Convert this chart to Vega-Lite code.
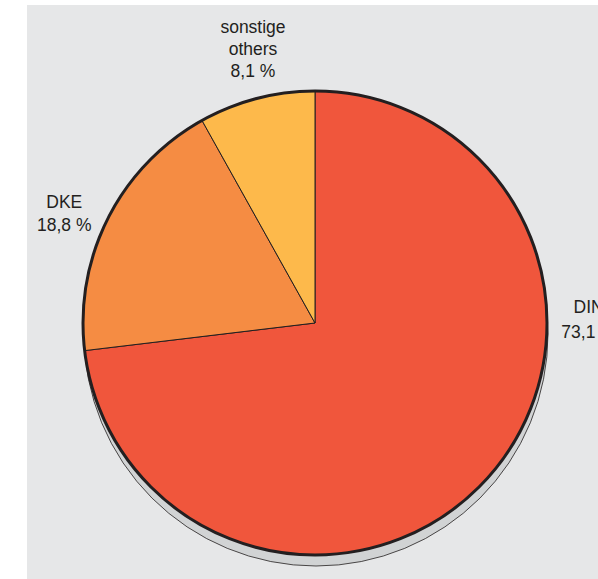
{
  "$schema": "https://vega.github.io/schema/vega-lite/v6.json",
  "width": 571,
  "height": 574,
  "autosize": {"type": "none"},
  "padding": {"left": 27, "top": 5, "right": 0, "bottom": 0},
  "background": "#ffffff",
  "view": {"fill": "#e6e7e8", "stroke": null},
  "config": {"view": {"fill": "#e6e7e8", "stroke": null}},
  "datasets": {
    "shares": [
      {"name": "DIN", "share": 73.1, "label": ["DIN", "73,1 %"]},
      {"name": "DKE", "share": 18.8, "label": ["DKE", "18,8 %"]},
      {"name": "sonstige", "share": 8.1, "label": ["sonstige", "others", "8,1 %"]}
    ],
    "whole": [{"share": 100}]
  },
  "layer": [
    {
      "data": {"name": "whole"},
      "mark": {"type": "arc", "radius": 232, "xOffset": 3.5, "yOffset": 42, "fill": "#d1d3d4", "stroke": "#231f20", "strokeWidth": 0.8},
      "encoding": {"theta": {"field": "share", "type": "quantitative", "stack": true}}
    },
    {
      "data": {"name": "shares"},
      "mark": {"type": "arc", "radius": 232, "xOffset": 2.5, "yOffset": 31, "stroke": "#231f20", "strokeWidth": 1},
      "encoding": {
        "theta": {"field": "share", "type": "quantitative", "stack": true},
        "order": {"field": "name", "sort": "ascending"},
        "color": {
          "field": "name", "type": "nominal", "legend": null,
          "scale": {"domain": ["DIN", "DKE", "sonstige"], "range": ["#f0563c", "#f58c43", "#fdb94b"]}
        }
      }
    },
    {
      "data": {"name": "whole"},
      "mark": {"type": "arc", "radius": 232, "xOffset": 2.5, "yOffset": 31, "fillOpacity": 0, "fill": "#ffffff", "stroke": "#231f20", "strokeWidth": 3},
      "encoding": {"theta": {"field": "share", "type": "quantitative", "stack": true}}
    },
    {
      "data": {"name": "shares"},
      "mark": {"type": "text", "radius": 301, "thetaOffset": 0.047, "xOffset": 2.5, "yOffset": 31, "font": "Liberation Sans", "fontSize": 17.5, "lineHeight": 22, "align": "center", "baseline": "middle", "color": "#231f20"},
      "encoding": {
        "theta": {"field": "share", "type": "quantitative", "stack": true},
        "order": {"field": "name", "sort": "ascending"},
        "detail": {"field": "name", "type": "nominal"},
        "text": {"field": "label", "type": "nominal"},
        "opacity": {"condition": {"test": "datum.name !== 'sonstige'", "value": 0}, "value": 1}
      }
    },
    {
      "data": {"name": "shares"},
      "mark": {"type": "text", "radius": 278, "thetaOffset": -0.025, "xOffset": 2.5, "yOffset": 31, "font": "Liberation Sans", "fontSize": 17.5, "lineHeight": 23, "align": "center", "baseline": "middle", "color": "#231f20"},
      "encoding": {
        "theta": {"field": "share", "type": "quantitative", "stack": true},
        "order": {"field": "name", "sort": "ascending"},
        "detail": {"field": "name", "type": "nominal"},
        "text": {"field": "label", "type": "nominal"},
        "opacity": {"condition": {"test": "datum.name !== 'DKE'", "value": 0}, "value": 1}
      }
    },
    {
      "data": {"name": "shares"},
      "mark": {"type": "text", "radius": 274, "thetaOffset": -0.780, "xOffset": 2.5, "yOffset": 31, "font": "Liberation Sans", "fontSize": 17.5, "lineHeight": 25, "align": "center", "baseline": "middle", "color": "#231f20"},
      "encoding": {
        "theta": {"field": "share", "type": "quantitative", "stack": true},
        "order": {"field": "name", "sort": "ascending"},
        "detail": {"field": "name", "type": "nominal"},
        "text": {"field": "label", "type": "nominal"},
        "opacity": {"condition": {"test": "datum.name !== 'DIN'", "value": 0}, "value": 1}
      }
    }
  ]
}
